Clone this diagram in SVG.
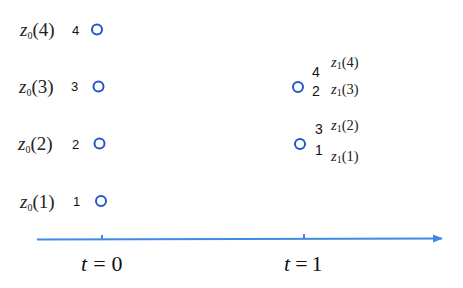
<svg xmlns="http://www.w3.org/2000/svg" width="463" height="288" viewBox="0 0 463 288">
<defs>
<style>
.pt{fill:none;stroke:#2456c4;stroke-width:2}
.zl{font-family:"Liberation Serif",serif;font-size:19px;fill:#222}
.zs{font-family:"Liberation Serif",serif;font-size:14.5px;fill:#222}
.sub{font-size:10px}
.n{font-family:"Liberation Sans",Arial,sans-serif;font-size:13px;fill:#111}
.nr{font-family:"Liberation Sans",Arial,sans-serif;font-size:14px;fill:#111}
.ax{stroke:#3f8ae6;stroke-width:2;fill:none}
.tl{font-family:"Liberation Serif",serif;font-size:22px;fill:#111}
</style>
<marker id="arr" viewBox="0 0 10 10" refX="9" refY="5" markerWidth="5" markerHeight="5" orient="auto"><path d="M0,1 L10,5 L0,9 z" fill="#3f8ae6"/></marker>
</defs>
<g id="connectors">
<line class="ax" x1="37" y1="239.5" x2="442" y2="238.5" marker-end="url(#arr)"/>
<line class="ax" x1="102" y1="235" x2="102" y2="239" stroke-width="1.5"/>
<line class="ax" x1="304" y1="234" x2="304" y2="239" stroke-width="1.5"/>
</g>
<g id="n0_4"><circle class="pt" cx="97" cy="29.5" r="5"/><text class="zl" x="20" y="36"><tspan font-style="italic">z</tspan><tspan class="sub" dy="3">0</tspan><tspan dy="-3">(4)</tspan></text><text class="n" x="72" y="35">4</text></g>
<g id="n0_3"><circle class="pt" cx="98.5" cy="86.5" r="5"/><text class="zl" x="19" y="93"><tspan font-style="italic">z</tspan><tspan class="sub" dy="3">0</tspan><tspan dy="-3">(3)</tspan></text><text class="n" x="71" y="91">3</text></g>
<g id="n0_2"><circle class="pt" cx="99.5" cy="143.5" r="5"/><text class="zl" x="18" y="150"><tspan font-style="italic">z</tspan><tspan class="sub" dy="3">0</tspan><tspan dy="-3">(2)</tspan></text><text class="n" x="72" y="149">2</text></g>
<g id="n0_1"><circle class="pt" cx="101" cy="201" r="5"/><text class="zl" x="20" y="208"><tspan font-style="italic">z</tspan><tspan class="sub" dy="3">0</tspan><tspan dy="-3">(1)</tspan></text><text class="n" x="73" y="206">1</text></g>
<g id="n1_34"><circle class="pt" cx="298" cy="87" r="5"/><text class="nr" x="312" y="77">4</text><text class="nr" x="312" y="96">2</text>
<text class="zs" x="331" y="67"><tspan font-style="italic">z</tspan><tspan class="sub" dy="2">1</tspan><tspan dy="-2">(4)</tspan></text>
<text class="zs" x="331" y="94"><tspan font-style="italic">z</tspan><tspan class="sub" dy="2">1</tspan><tspan dy="-2">(3)</tspan></text></g>
<g id="n1_12"><circle class="pt" cx="300" cy="144" r="5"/><text class="nr" x="315" y="134">3</text><text class="nr" x="315" y="155">1</text>
<text class="zs" x="331" y="130"><tspan font-style="italic">z</tspan><tspan class="sub" dy="2">1</tspan><tspan dy="-2">(2)</tspan></text>
<text class="zs" x="331" y="161"><tspan font-style="italic">z</tspan><tspan class="sub" dy="2">1</tspan><tspan dy="-2">(1)</tspan></text></g>
<g id="labels"><text class="tl" x="81" y="271"><tspan font-style="italic">t</tspan><tspan dx="6">=</tspan><tspan dx="6">0</tspan></text><text class="tl" x="284" y="271"><tspan font-style="italic">t</tspan><tspan dx="5">=</tspan><tspan dx="4">1</tspan></text></g>
</svg>
